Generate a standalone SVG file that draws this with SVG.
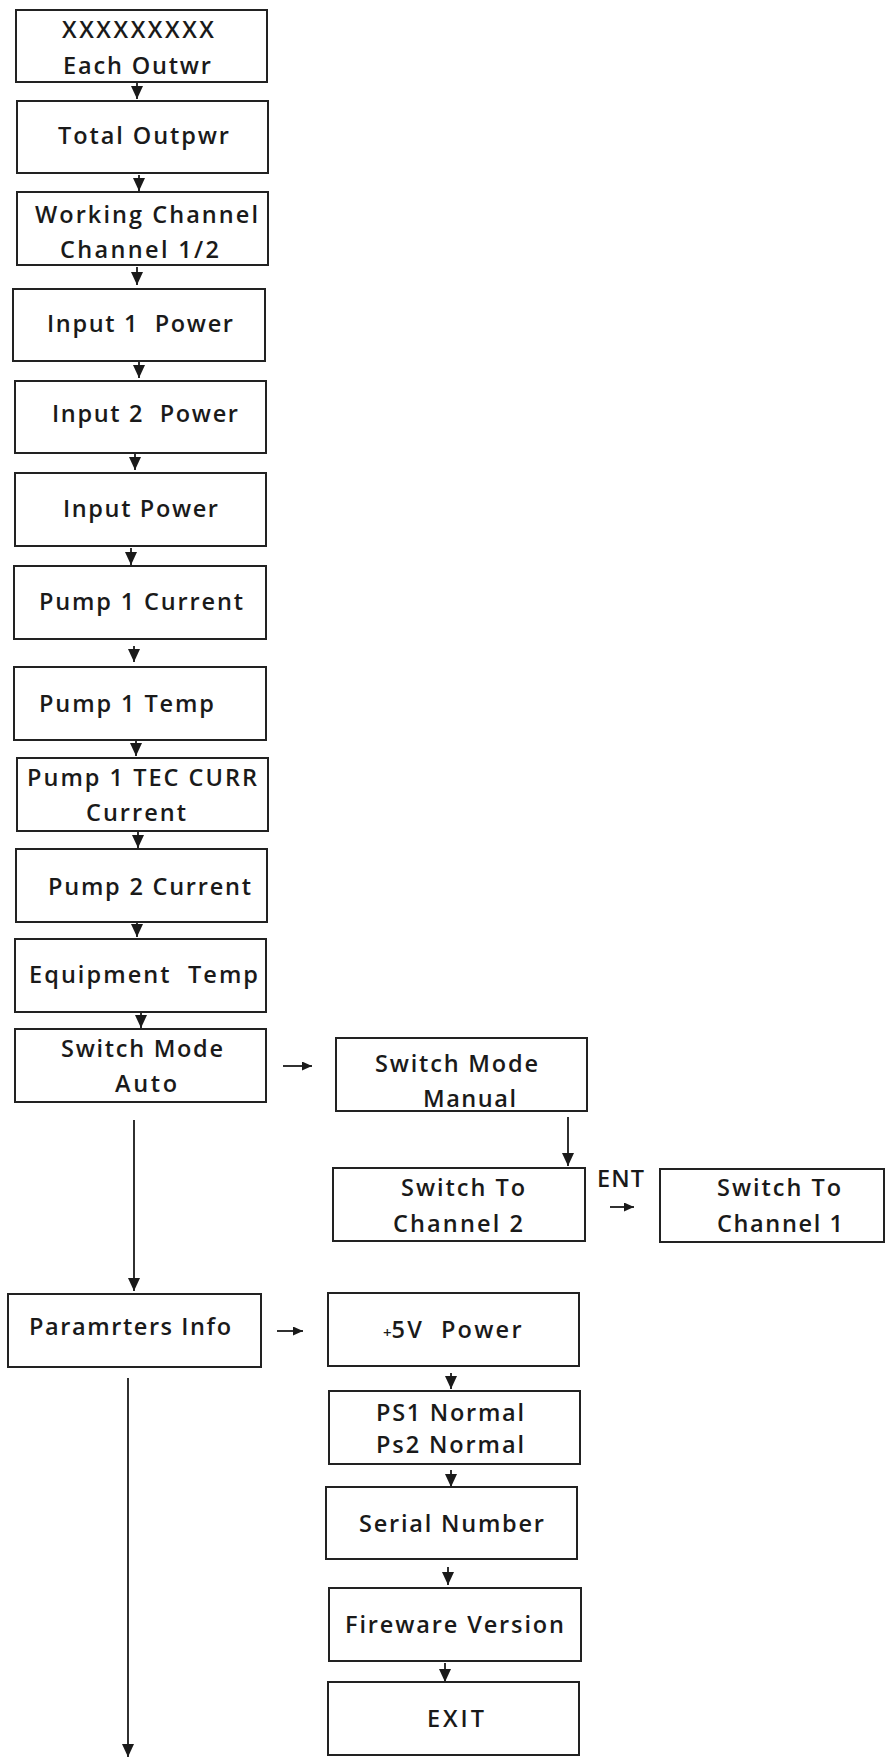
<svg xmlns="http://www.w3.org/2000/svg" width="886" height="1758" viewBox="0 0 886 1758">
<style>
.box{fill:#fff;stroke:#222;stroke-width:2}
.t{font-family:"Open Sans","Liberation Sans",sans-serif;font-size:23.5px;font-weight:600;fill:#1a1a1a}
.c{stroke:#1a1a1a;stroke-width:1.8;fill:none}
</style>
<defs>
<marker id="ah" markerUnits="userSpaceOnUse" markerWidth="13" markerHeight="12" refX="13" refY="6" orient="auto" viewBox="0 0 13 12">
<path d="M0,0 L13,6 L0,12 z" fill="#1a1a1a"/>
</marker>
<marker id="hs" markerUnits="userSpaceOnUse" markerWidth="10" markerHeight="9" refX="10" refY="4.5" orient="auto" viewBox="0 0 10 9">
<path d="M0,0 L10,4.5 L0,9 z" fill="#1a1a1a"/>
</marker>
</defs>
<rect width="886" height="1758" fill="#fff"/>

<g id="connectors">
<line class="c" x1="137" y1="83" x2="137" y2="99" marker-end="url(#ah)"/>
<line class="c" x1="139" y1="175" x2="139" y2="191" marker-end="url(#ah)"/>
<line class="c" x1="137" y1="267" x2="137" y2="285" marker-end="url(#ah)"/>
<line class="c" x1="139" y1="362" x2="139" y2="378" marker-end="url(#ah)"/>
<line class="c" x1="135" y1="454" x2="135" y2="470" marker-end="url(#ah)"/>
<line class="c" x1="131" y1="548" x2="131" y2="565" marker-end="url(#ah)"/>
<line class="c" x1="134" y1="646" x2="134" y2="662" marker-end="url(#ah)"/>
<line class="c" x1="136" y1="741" x2="136" y2="756" marker-end="url(#ah)"/>
<line class="c" x1="138" y1="832" x2="138" y2="848" marker-end="url(#ah)"/>
<line class="c" x1="137" y1="923" x2="137" y2="937" marker-end="url(#ah)"/>
<line class="c" x1="141" y1="1013" x2="141" y2="1028" marker-end="url(#ah)"/>
<line class="c" x1="283" y1="1066" x2="312" y2="1066" marker-end="url(#hs)"/>
<line class="c" x1="568" y1="1117" x2="568" y2="1166" marker-end="url(#ah)"/>
<line class="c" x1="610" y1="1207" x2="634" y2="1207" marker-end="url(#hs)"/>
<line class="c" x1="134" y1="1120" x2="134" y2="1291" marker-end="url(#ah)"/>
<line class="c" x1="277" y1="1331" x2="303" y2="1331" marker-end="url(#hs)"/>
<line class="c" x1="451" y1="1373" x2="451" y2="1389" marker-end="url(#ah)"/>
<line class="c" x1="451" y1="1470" x2="451" y2="1487" marker-end="url(#ah)"/>
<line class="c" x1="448" y1="1567" x2="448" y2="1585" marker-end="url(#ah)"/>
<line class="c" x1="445" y1="1663" x2="445" y2="1682" marker-end="url(#ah)"/>
<line class="c" x1="128" y1="1378" x2="128" y2="1757" marker-end="url(#ah)"/>
</g>

<g id="n1"><rect class="box" x="16" y="10" width="251" height="72"/>
<text class="t" x="62" y="38" textLength="152">XXXXXXXXX</text>
<text class="t" x="63" y="74" textLength="148">Each Outwr</text></g>

<g id="n2"><rect class="box" x="17" y="101" width="251" height="72"/>
<text class="t" x="58" y="144" textLength="171">Total Outpwr</text></g>

<g id="n3"><rect class="box" x="17" y="192" width="251" height="73"/>
<text class="t" x="35" y="223" textLength="223">Working Channel</text>
<text class="t" x="60" y="258" textLength="159">Channel 1/2</text></g>

<g id="n4"><rect class="box" x="13" y="289" width="252" height="72"/>
<text class="t" x="47" y="332" textLength="186" xml:space="preserve">Input 1  Power</text></g>

<g id="n5"><rect class="box" x="15" y="381" width="251" height="72"/>
<text class="t" x="52" y="422" textLength="186" xml:space="preserve">Input 2  Power</text></g>

<g id="n6"><rect class="box" x="15" y="473" width="251" height="73"/>
<text class="t" x="63" y="517" textLength="155">Input Power</text></g>

<g id="n7"><rect class="box" x="14" y="566" width="252" height="73"/>
<text class="t" x="39" y="610" textLength="204">Pump 1 Current</text></g>

<g id="n8"><rect class="box" x="14" y="667" width="252" height="73"/>
<text class="t" x="39" y="712" textLength="175">Pump 1 Temp</text></g>

<g id="n9"><rect class="box" x="17" y="758" width="251" height="73"/>
<text class="t" x="27" y="786" textLength="230">Pump 1 TEC CURR</text>
<text class="t" x="86" y="821" textLength="100">Current</text></g>

<g id="n10"><rect class="box" x="16" y="849" width="251" height="73"/>
<text class="t" x="48" y="895" textLength="203">Pump 2 Current</text></g>

<g id="n11"><rect class="box" x="15" y="939" width="251" height="73"/>
<text class="t" x="29" y="983" textLength="229" xml:space="preserve">Equipment  Temp</text></g>

<g id="n12"><rect class="box" x="15" y="1029" width="251" height="73"/>
<text class="t" x="61" y="1057" textLength="162">Switch Mode</text>
<text class="t" x="115" y="1092" textLength="62">Auto</text></g>

<g id="n13"><rect class="box" x="336" y="1038" width="251" height="73"/>
<text class="t" x="375" y="1072" textLength="163">Switch Mode</text>
<text class="t" x="423" y="1107" textLength="93">Manual</text></g>

<g id="n14"><rect class="box" x="333" y="1168" width="252" height="73"/>
<text class="t" x="401" y="1196" textLength="124">Switch To</text>
<text class="t" x="393" y="1232" textLength="130">Channel 2</text></g>

<g id="ent"><text class="t" x="597" y="1187" textLength="47">ENT</text></g>

<g id="n15"><rect class="box" x="660" y="1169" width="224" height="73"/>
<text class="t" x="717" y="1196" textLength="124">Switch To</text>
<text class="t" x="717" y="1232" textLength="126">Channel 1</text></g>

<g id="n16"><rect class="box" x="8" y="1294" width="253" height="73"/>
<text class="t" x="29" y="1335" textLength="202">Paramrters Info</text></g>

<g id="n17"><rect class="box" x="328" y="1293" width="251" height="73"/>
<text class="t" x="383" y="1338" xml:space="preserve"><tspan font-size="15">+</tspan><tspan textLength="130">5V  Power</tspan></text></g>

<g id="n18"><rect class="box" x="329" y="1391" width="251" height="73"/>
<text class="t" x="376" y="1421" font-size="22" textLength="148">PS1 Normal</text>
<text class="t" x="376" y="1453" font-size="22" textLength="148">Ps2 Normal</text></g>

<g id="n19"><rect class="box" x="326" y="1487" width="251" height="72"/>
<text class="t" x="359" y="1532" textLength="185">Serial Number</text></g>

<g id="n20"><rect class="box" x="329" y="1588" width="252" height="73"/>
<text class="t" x="345" y="1633" textLength="219">Fireware Version</text></g>

<g id="n21"><rect class="box" x="328" y="1682" width="251" height="73"/>
<text class="t" x="427" y="1727" textLength="57">EXIT</text></g>
</svg>
